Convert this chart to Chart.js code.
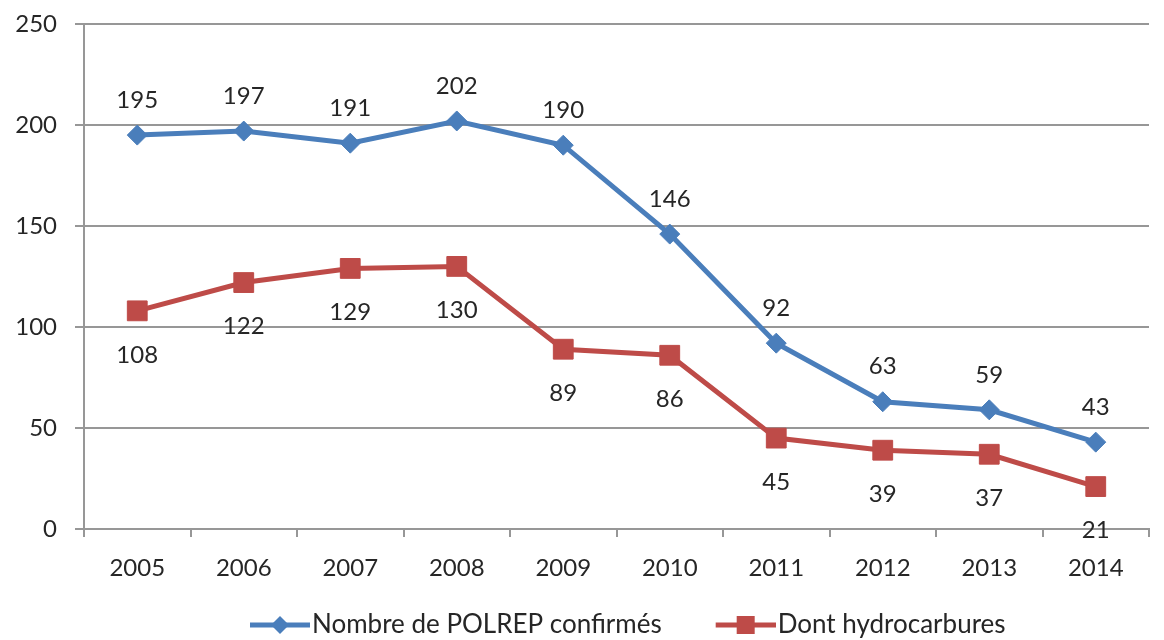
<!DOCTYPE html>
<html>
<head>
<meta charset="utf-8">
<script src="https://cdn.jsdelivr.net/npm/chart.js@4/dist/chart.umd.min.js"></script>
<style>
  html, body { margin: 0; padding: 0; background: #fff; }
  #wrap { width: 1164px; height: 640px; }
</style>
</head>
<body>
<div id="wrap"><canvas id="c" width="1164" height="640"></canvas></div>
<script>
const years = ['2005','2006','2007','2008','2009','2010','2011','2012','2013','2014'];
const polrep = [195, 197, 191, 202, 190, 146, 92, 63, 59, 43];
const hydro = [108, 122, 129, 130, 89, 86, 45, 39, 37, 21];
const seriesNames = ['Nombre de POLREP confirmés', 'Dont hydrocarbures'];
const yTicks = [0, 50, 100, 150, 200, 250];

const BLUE = '#4a7ebb';
const RED = '#be4b48';
const GRID = '#979797';
const TXT = '#262626';
const FONT = 'Lato, "Open Sans", sans-serif';

// legend geometry
const LEG_FONT = 26;
const LEG_PAD = 10;
const LEG_BOX = 93;                                   // reserved box width (gap control)
const ICON_W = Math.round(LEG_BOX + 2 * (LEG_FONT / 2 - 2)); // visible line in right 60px

function makeIcon(color, shape) {
  const cv = document.createElement('canvas');
  cv.width = ICON_W; cv.height = 20;
  const g = cv.getContext('2d');
  const x0 = ICON_W - 60;
  g.strokeStyle = color; g.lineWidth = 5;
  g.beginPath(); g.moveTo(x0, 10); g.lineTo(ICON_W, 10); g.stroke();
  g.fillStyle = color;
  g.beginPath();
  const cx = x0 + 30;
  if (shape === 'diamond') {
    g.moveTo(cx, 1); g.lineTo(cx + 9, 10); g.lineTo(cx, 19); g.lineTo(cx - 9, 10); g.closePath();
  } else {
    g.rect(cx - 9, 1, 18, 18);
  }
  g.fill();
  return cv;
}
const icons = [makeIcon(BLUE, 'diamond'), makeIcon(RED, 'square')];

const labelPlugin = {
  id: 'valueLabels',
  afterDatasetsDraw(chart) {
    const ctx = chart.ctx;
    ctx.save();
    ctx.font = '24px ' + FONT;
    ctx.fillStyle = TXT;
    ctx.textAlign = 'center';
    ctx.textBaseline = 'middle';
    const offsets = [-35, 44];
    chart.data.datasets.forEach((ds, di) => {
      const meta = chart.getDatasetMeta(di);
      meta.data.forEach((pt, i) => {
        ctx.fillText(String(ds.data[i]), pt.x, pt.y + offsets[di]);
      });
    });
    ctx.restore();
  }
};

const legendMove = {
  id: 'legendMove',
  afterLayout(chart) {
    const lg = chart.legend;
    if (!lg) return;
    const s1 = 312 - LEG_FONT / 2 - LEG_BOX;
    const dx = (s1 - LEG_PAD) - lg.left;
    lg.left += dx; lg.right += dx;
    const targetTop = 627 - LEG_PAD - 15;
    const dy = targetTop - lg.top;
    lg.top += dy; lg.bottom += dy;
  }
};

new Chart(document.getElementById('c'), {
  type: 'line',
  data: {
    labels: years,
    datasets: [
      {
        label: seriesNames[0],
        data: polrep,
        borderColor: BLUE,
        backgroundColor: BLUE,
        borderWidth: 5,
        pointStyle: 'rectRot',
        pointRadius: 10,
        pointBackgroundColor: BLUE,
        pointBorderColor: BLUE,
        pointBorderWidth: 1,
        tension: 0
      },
      {
        label: seriesNames[1],
        data: hydro,
        borderColor: RED,
        backgroundColor: RED,
        borderWidth: 5,
        pointStyle: 'rect',
        pointRadius: 14,
        pointBackgroundColor: RED,
        pointBorderColor: RED,
        pointBorderWidth: 1,
        tension: 0
      }
    ]
  },
  options: {
    responsive: false,
    animation: false,
    layout: { padding: { top: 24, left: 0, right: 0, bottom: 0 } },
    plugins: {
      tooltip: { enabled: false },
      legend: {
        position: 'bottom',
        align: 'start',
        labels: {
          usePointStyle: true,
          pointStyleWidth: LEG_BOX,
          padding: LEG_PAD,
          color: TXT,
          font: { family: FONT, size: LEG_FONT },
          generateLabels(chart) {
            const items = Chart.defaults.plugins.legend.labels.generateLabels(chart);
            items.forEach((it, i) => { it.pointStyle = icons[i]; });
            return items;
          }
        }
      }
    },
    scales: {
      x: {
        offset: true,
        grid: { offset: true, drawOnChartArea: false, drawTicks: true, tickLength: 8, color: GRID, lineWidth: 2 },
        border: { color: GRID, width: 2 },
        ticks: { color: TXT, font: { family: FONT, size: 24 }, padding: 17, maxRotation: 0 },
        afterFit(s) { s.height = 640 - 529 - (s.chart.legend ? s.chart.legend.height : 0); }
      },
      y: {
        min: 0, max: 250,
        afterBuildTicks(s) { s.ticks = yTicks.map(v => ({ value: v })); },
        grid: { color: GRID, lineWidth: 2, tickLength: 9 },
        border: { color: GRID, width: 2 },
        ticks: { color: TXT, font: { family: FONT, size: 24 }, padding: 18 },
        afterFit(s) { s.width = 84; s.paddingTop = 0; s.paddingBottom = 0; }
      }
    }
  },
  plugins: [labelPlugin, legendMove]
});
</script>
</body>
</html>
